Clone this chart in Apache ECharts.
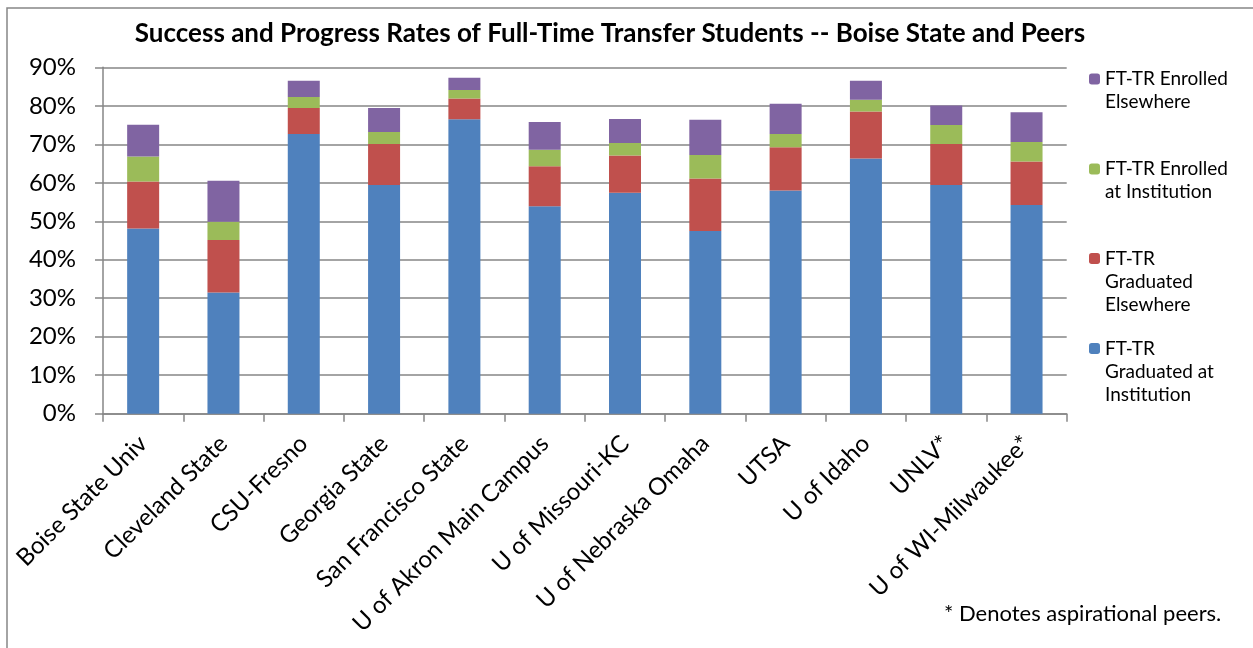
<!DOCTYPE html>
<html>
<head>
<meta charset="utf-8">
<script src="https://cdn.jsdelivr.net/npm/echarts@6/dist/echarts.min.js"></script>
<style>
html,body{margin:0;padding:0;background:#fff;}
#chart{width:1253px;height:648px;}
</style>
</head>
<body>
<div id="chart"></div>
<script>
const categories = ['Boise State Univ','Cleveland State','CSU-Fresno','Georgia State','San Francisco State','U of Akron Main Campus','U of Missouri-KC','U of Nebraska Omaha','UTSA','U of Idaho','UNLV*','U of WI-Milwaukee*'];
const gradAtInst   = [48.1, 31.5, 72.7, 59.4, 76.5, 53.9, 57.4, 47.5, 58.0, 66.3, 59.4, 54.2];
const gradElse     = [12.2, 13.6,  6.7, 10.7,  5.4, 10.4,  9.7, 13.6, 11.2, 12.2, 10.7, 11.3];
const enrAtInst    = [ 6.5,  4.8,  2.9,  3.1,  2.2,  4.3,  3.2,  6.1,  3.5,  3.1,  4.9,  5.1];
const enrElse      = [ 8.3, 10.6,  4.2,  6.2,  3.2,  7.2,  6.3,  9.2,  7.8,  4.9,  5.1,  7.7];
const seriesNames  = ['FT-TR Graduated at Institution','FT-TR Graduated Elsewhere','FT-TR Enrolled at Institution','FT-TR Enrolled Elsewhere'];
const legendLabels = ['FT-TR\nGraduated at\nInstitution','FT-TR\nGraduated\nElsewhere','FT-TR Enrolled\nat Institution','FT-TR Enrolled\nElsewhere'];
const colors = ['#4F81BD','#C0504D','#9BBB59','#8064A2'];
const yTicks = [0,10,20,30,40,50,60,70,80,90];
const titleText = 'Success and Progress Rates of Full-Time Transfer Students -- Boise State and Peers';
const footnote = '* Denotes aspirational peers.';

const FONT = 'Lato, "Open Sans", sans-serif';
const chart = echarts.init(document.getElementById('chart'), null, {renderer:'canvas'});
const seriesData = [gradAtInst, gradElse, enrAtInst, enrElse];
const LH = 23;
// legend marker centers (top to bottom: enrolled elsewhere, enrolled at inst, grad elsewhere, grad at inst)
const legendCenters = {3: 79, 2: 169, 1: 258.5, 0: 348.5};
const legends = [3,2,1,0].map(i => {
  const lines = legendLabels[i].split('\n').length;
  // pad with leading blank lines so the first real line sits level with the marker
  const padded = '\n'.repeat(lines - 1) + legendLabels[i];
  const boxH = (2 * lines - 1) * LH;
  return {
    data: [seriesNames[i]],
    orient: 'vertical',
    left: 1089,
    top: legendCenters[i] - boxH / 2,
    padding: 0,
    itemWidth: 11,
    itemHeight: 11,
    itemGap: 0,
    selectedMode: false,
    formatter: () => padded,
    textStyle: {fontFamily: FONT, fontSize: 19, color: '#000', lineHeight: LH}
  };
});

const option = {
  animation: false,
  color: colors,
  title: {
    text: titleText,
    left: 605,
    textAlign: 'center',
    top: 16,
    textStyle: {fontFamily: FONT, fontWeight: 'bold', fontSize: 26, color: '#000'}
  },
  legend: legends,
  grid: {left: 103, top: 67.3, right: 186.3, bottom: 234.3, containLabel: false},
  xAxis: {
    type: 'category',
    data: categories,
    axisLine: {lineStyle: {color: '#868686', width: 1.5}},
    axisTick: {show: true, length: 8, lineStyle: {color: '#868686', width: 1.5}},
    axisLabel: {rotate: 45, interval: 0, margin: 26, fontFamily: FONT, fontSize: 24, color: '#000'}
  },
  yAxis: {
    type: 'value',
    min: 0, max: 90, interval: 10,
    axisLine: {show: true, lineStyle: {color: '#868686', width: 1.5}},
    axisTick: {show: true, length: 8, lineStyle: {color: '#868686', width: 1.5}},
    splitLine: {lineStyle: {color: '#868686', width: 1.5}},
    axisLabel: {margin: 27, fontFamily: FONT, fontSize: 24, color: '#000', formatter: v => (yTicks.includes(v) ? v + '%' : '')}
  },
  series: seriesNames.map((name, i) => ({
    name: name,
    type: 'bar',
    stack: 'total',
    barWidth: 32,
    data: seriesData[i],
    itemStyle: {color: colors[i]}
  })),
  graphic: [
    {type: 'rect', shape: {x: 7, y: 8, width: 1300, height: 700}, style: {fill: 'none', stroke: '#868686', lineWidth: 1.5}, silent: true, z: -1},
    {type: 'text', left: 944, top: 603, style: {text: footnote, font: '22px ' + FONT, fill: '#000'}}
  ]
};
chart.setOption(option);
</script>
</body>
</html>
